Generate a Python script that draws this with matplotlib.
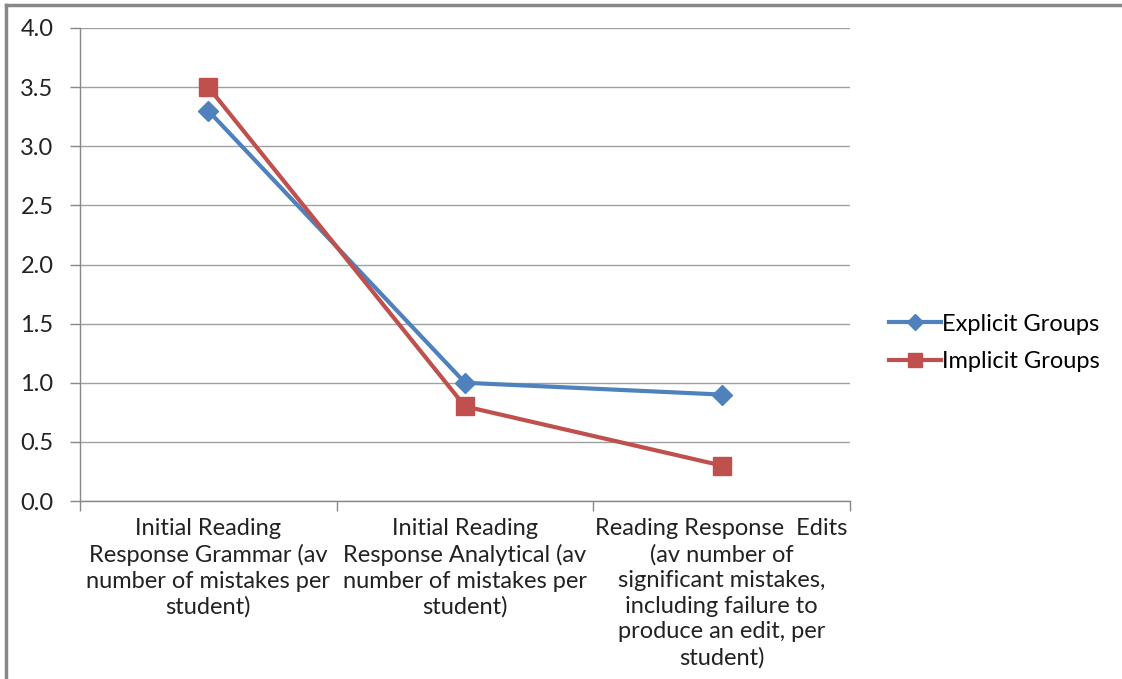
import matplotlib
matplotlib.use("Agg")
import matplotlib.pyplot as plt
from matplotlib.lines import Line2D

categories = [
    "Initial Reading\nResponse Grammar (av\nnumber of mistakes per\nstudent)",
    "Initial Reading\nResponse Analytical (av\nnumber of mistakes per\nstudent)",
    "Reading Response  Edits\n(av number of\nsignificant mistakes,\nincluding failure to\nproduce an edit, per\nstudent)",
]
explicit = [3.3, 1.0, 0.9]
implicit = [3.5, 0.8, 0.3]
yticks = [0.0, 0.5, 1.0, 1.5, 2.0, 2.5, 3.0, 3.5, 4.0]

plt.rcParams['font.family'] = ['Lato', 'DejaVu Sans']

fig = plt.figure(figsize=(11.22, 6.79), dpi=100)
ax = fig.add_axes([80/1122, 1-501/679, (850-80)/1122, (501-28)/679])

x = list(range(len(categories)))
ax.plot(x, explicit, color='#4F81BD', lw=3, marker='D', ms=10,
        label='Explicit Groups', zorder=3)
ax.plot(x, implicit, color='#C0504D', lw=3, marker='s', ms=13,
        label='Implicit Groups', zorder=3)

ax.set_xlim(-0.5, len(categories) - 0.5)
ax.set_ylim(0, 4)
ax.set_yticks(yticks)
ax.set_yticklabels([f"{v:.1f}" for v in yticks])
ax.set_xticks(x)
ax.set_xticklabels(categories, fontsize=17, color='#222222', linespacing=1.28)
ax.tick_params(axis='x', which='major', length=0, pad=12)
ax.set_xticks([i - 0.5 for i in range(len(categories) + 1)], minor=True)
ax.tick_params(axis='x', which='minor', length=7, color='#888888', width=1)
ax.tick_params(axis='y', length=7, color='#888888', width=1, labelsize=17,
               labelcolor='#222222', pad=12)

ax.grid(axis='y', color='#A0A0A0', lw=1)
ax.set_axisbelow(True)
for s in ['top', 'right']:
    ax.spines[s].set_visible(False)
for s in ['left', 'bottom']:
    ax.spines[s].set_color('#888888')
    ax.spines[s].set_linewidth(1)

leg = fig.legend(loc='center left', bbox_to_anchor=(868/1122, 1-343/679),
                 frameon=False, fontsize=17, handlelength=2.2, handletextpad=0.05,
                 labelspacing=0.7, markerscale=0.8)

# outer frame lines (top and left)
fig.add_artist(Line2D([6/1122, 1], [1-5/679, 1-5/679], color='#888888', lw=2.5,
                      transform=fig.transFigure))
fig.add_artist(Line2D([6/1122, 6/1122], [0, 1-5/679], color='#888888', lw=2.5,
                      transform=fig.transFigure))

fig.savefig('out.png', dpi=100)
